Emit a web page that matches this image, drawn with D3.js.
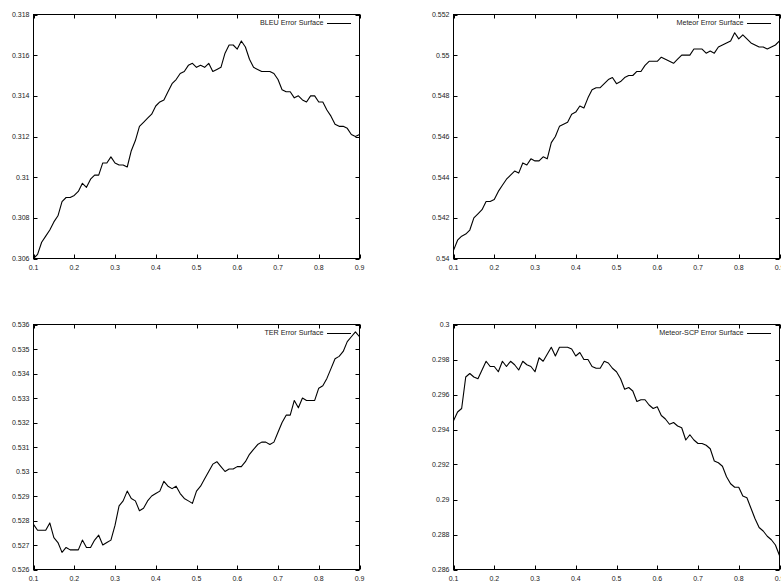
<!DOCTYPE html>
<html>
<head>
<meta charset="utf-8">
<script src="https://cdn.jsdelivr.net/npm/d3@7"></script>
<style>
  html, body { margin: 0; padding: 0; background: #fff; overflow: hidden; }
  svg { display: block; }
  text { font-family: "Liberation Sans", Arial, sans-serif; }
</style>
</head>
<body>
<svg id="chart" width="781" height="581"></svg>
<script>
// x grid (weight)
const xValues = [0.10,0.11,0.12,0.13,0.14,0.15,0.16,0.17,0.18,0.19,
  0.20,0.21,0.22,0.23,0.24,0.25,0.26,0.27,0.28,0.29,
  0.30,0.31,0.32,0.33,0.34,0.35,0.36,0.37,0.38,0.39,
  0.40,0.41,0.42,0.43,0.44,0.45,0.46,0.47,0.48,0.49,
  0.50,0.51,0.52,0.53,0.54,0.55,0.56,0.57,0.58,0.59,
  0.60,0.61,0.62,0.63,0.64,0.65,0.66,0.67,0.68,0.69,
  0.70,0.71,0.72,0.73,0.74,0.75,0.76,0.77,0.78,0.79,
  0.80,0.81,0.82,0.83,0.84,0.85,0.86,0.87,0.88,0.89,0.90];

const bleuValues = [0.3060,0.3062,0.3068,0.3071,0.3074,0.3078,0.3081,0.3088,0.3090,0.3090,
  0.3091,0.3093,0.3097,0.3095,0.3099,0.3101,0.3101,0.3107,0.3107,0.3110,
  0.3107,0.3106,0.3106,0.3105,0.3113,0.3118,0.3125,0.3127,0.3129,0.3131,
  0.3135,0.3137,0.3138,0.3142,0.3146,0.3148,0.3151,0.3152,0.3155,0.3156,
  0.3154,0.3155,0.3154,0.3156,0.3152,0.3153,0.3154,0.3161,0.3165,0.3165,
  0.3163,0.3167,0.3164,0.3158,0.3154,0.3153,0.3152,0.3152,0.3152,0.3151,
  0.3148,0.3143,0.3142,0.3142,0.3139,0.3140,0.3138,0.3137,0.3140,0.3140,
  0.3137,0.3137,0.3133,0.3130,0.3126,0.3125,0.3125,0.3124,0.3121,0.3120,0.3121];

const meteorValues = [0.5404,0.5409,0.5411,0.5412,0.5414,0.5420,0.5422,0.5424,0.5428,0.5428,
  0.5429,0.5433,0.5436,0.5439,0.5441,0.5443,0.5442,0.5447,0.5446,0.5449,
  0.5448,0.5448,0.5450,0.5449,0.5457,0.5460,0.5465,0.5466,0.5467,0.5471,
  0.5472,0.5475,0.5474,0.5479,0.5483,0.5484,0.5484,0.5486,0.5488,0.5489,
  0.5486,0.5487,0.5489,0.5490,0.5490,0.5492,0.5492,0.5495,0.5497,0.5497,
  0.5497,0.5499,0.5498,0.5497,0.5496,0.5498,0.5500,0.5500,0.5500,0.5503,
  0.5503,0.5503,0.5501,0.5502,0.5501,0.5504,0.5505,0.5506,0.5507,0.5511,
  0.5508,0.5510,0.5508,0.5506,0.5505,0.5504,0.5504,0.5503,0.5504,0.5505,0.5507];

const terValues = [0.52784,0.5276,0.5276,0.5276,0.5279,0.5273,0.5271,0.5267,0.5269,0.5268,
  0.5268,0.5268,0.5272,0.5269,0.5269,0.5272,0.5274,0.5270,0.5271,0.5272,
  0.5278,0.5286,0.5288,0.5292,0.5289,0.5288,0.5284,0.5285,0.5288,0.5290,
  0.5291,0.5292,0.5296,0.5294,0.5293,0.5294,0.5291,0.5289,0.5288,0.5287,
  0.5292,0.5294,0.5297,0.5300,0.5303,0.5304,0.5302,0.5300,0.5301,0.5301,
  0.5302,0.5302,0.5304,0.5307,0.5309,0.5311,0.5312,0.5312,0.5311,0.5312,
  0.5316,0.5320,0.5323,0.5323,0.5329,0.5326,0.5330,0.5329,0.5329,0.5329,
  0.5334,0.5335,0.5338,0.5342,0.5346,0.5347,0.5349,0.5353,0.5355,0.5357,0.5355];

const meteorScpValues = [0.2945,0.2950,0.2952,0.2970,0.2972,0.2970,0.2969,0.2974,0.2979,0.2976,
  0.2976,0.2973,0.2979,0.2976,0.2979,0.2977,0.2974,0.2979,0.2977,0.2976,
  0.2973,0.2981,0.2979,0.2983,0.2987,0.2982,0.2987,0.2987,0.2987,0.2986,
  0.2982,0.2984,0.2980,0.2980,0.2976,0.2975,0.2975,0.2979,0.2978,0.2975,
  0.2973,0.2969,0.2963,0.2964,0.2962,0.2956,0.2957,0.2957,0.2954,0.2952,
  0.2953,0.2948,0.2946,0.2943,0.2944,0.2942,0.2941,0.2934,0.2937,0.2934,
  0.2932,0.2932,0.2931,0.2929,0.2922,0.2921,0.2919,0.2913,0.2909,0.2907,
  0.2907,0.2902,0.2901,0.2895,0.2889,0.2884,0.2882,0.2879,0.2877,0.2874,0.2868];

const xTicks = [0.1,0.2,0.3,0.4,0.5,0.6,0.7,0.8,0.9];
const bleuTicks = [0.306,0.308,0.31,0.312,0.314,0.316,0.318];
const meteorTicks = [0.54,0.542,0.544,0.546,0.548,0.55,0.552];
const terTicks = [0.526,0.527,0.528,0.529,0.53,0.531,0.532,0.533,0.534,0.535,0.536];
const meteorScpTicks = [0.286,0.288,0.29,0.292,0.294,0.296,0.298,0.3];

const titles = ["BLEU Error Surface","Meteor Error Surface","TER Error Surface","Meteor-SCP Error Surface"];

const panels = [
  {title: titles[0], values: bleuValues, ticks: bleuTicks, left: 33.5, right: 359.5, top: 14.5, bottom: 258.5},
  {title: titles[1], values: meteorValues, ticks: meteorTicks, left: 453.5, right: 779.5, top: 14.5, bottom: 258.5},
  {title: titles[2], values: terValues, ticks: terTicks, left: 33.5, right: 359.5, top: 324.5, bottom: 569.5},
  {title: titles[3], values: meteorScpValues, ticks: meteorScpTicks, left: 453.5, right: 779.5, top: 324.5, bottom: 569.5}
];

const svg = d3.select("#chart");
const fmt = d3.format("~g");
const tickLen = 4;
const textColor = "#222";

panels.forEach(p => {
  const x = d3.scaleLinear().domain([0.1, 0.9]).range([p.left, p.right]);
  const y = d3.scaleLinear().domain([p.ticks[0], p.ticks[p.ticks.length - 1]]).range([p.bottom, p.top]);
  const g = svg.append("g");

  // inner ticks on all four sides (gnuplot style, mirrored)
  const tg = g.append("g").attr("stroke", "#000").attr("stroke-width", 1);
  xTicks.forEach(t => {
    const xx = Math.round(x(t)) + 0.5;
    tg.append("line").attr("x1", xx).attr("x2", xx).attr("y1", p.bottom).attr("y2", p.bottom - tickLen);
    tg.append("line").attr("x1", xx).attr("x2", xx).attr("y1", p.top).attr("y2", p.top + tickLen);
  });
  p.ticks.forEach(t => {
    const yy = Math.round(y(t)) + 0.5;
    tg.append("line").attr("x1", p.left).attr("x2", p.left + tickLen).attr("y1", yy).attr("y2", yy);
    tg.append("line").attr("x1", p.right).attr("x2", p.right - tickLen).attr("y1", yy).attr("y2", yy);
  });

  // tick labels
  g.append("g").selectAll("text").data(xTicks).join("text")
    .attr("x", d => x(d)).attr("y", p.bottom + 11)
    .attr("text-anchor", "middle")
    .attr("font-size", 7).attr("fill", textColor)
    .text(d => fmt(d));
  g.append("g").selectAll("text").data(p.ticks).join("text")
    .attr("x", p.left - 4).attr("y", d => y(d) + 2.5)
    .attr("text-anchor", "end")
    .attr("font-size", 7).attr("fill", textColor)
    .text(d => fmt(+d.toFixed(6)));

  // data line
  const line = d3.line().x((d, i) => x(xValues[i])).y(d => y(d));
  g.append("path").datum(p.values)
    .attr("d", line)
    .attr("fill", "none").attr("stroke", "#000").attr("stroke-width", 1.1)
    .attr("stroke-linejoin", "round");

  // frame
  g.append("rect")
    .attr("x", p.left).attr("y", p.top)
    .attr("width", p.right - p.left).attr("height", p.bottom - p.top)
    .attr("fill", "none").attr("stroke", "#000").attr("stroke-width", 1);

  // legend
  const ly = p.top + 8;
  g.append("text")
    .attr("x", p.right - 36).attr("y", ly + 2.5)
    .attr("text-anchor", "end")
    .attr("font-size", 7.2).attr("fill", textColor)
    .text(p.title);
  g.append("line")
    .attr("x1", p.right - 32.5).attr("x2", p.right - 8.5)
    .attr("y1", Math.round(ly) + 0.5).attr("y2", Math.round(ly) + 0.5)
    .attr("stroke", "#000").attr("stroke-width", 1);
});
</script>
</body>
</html>
